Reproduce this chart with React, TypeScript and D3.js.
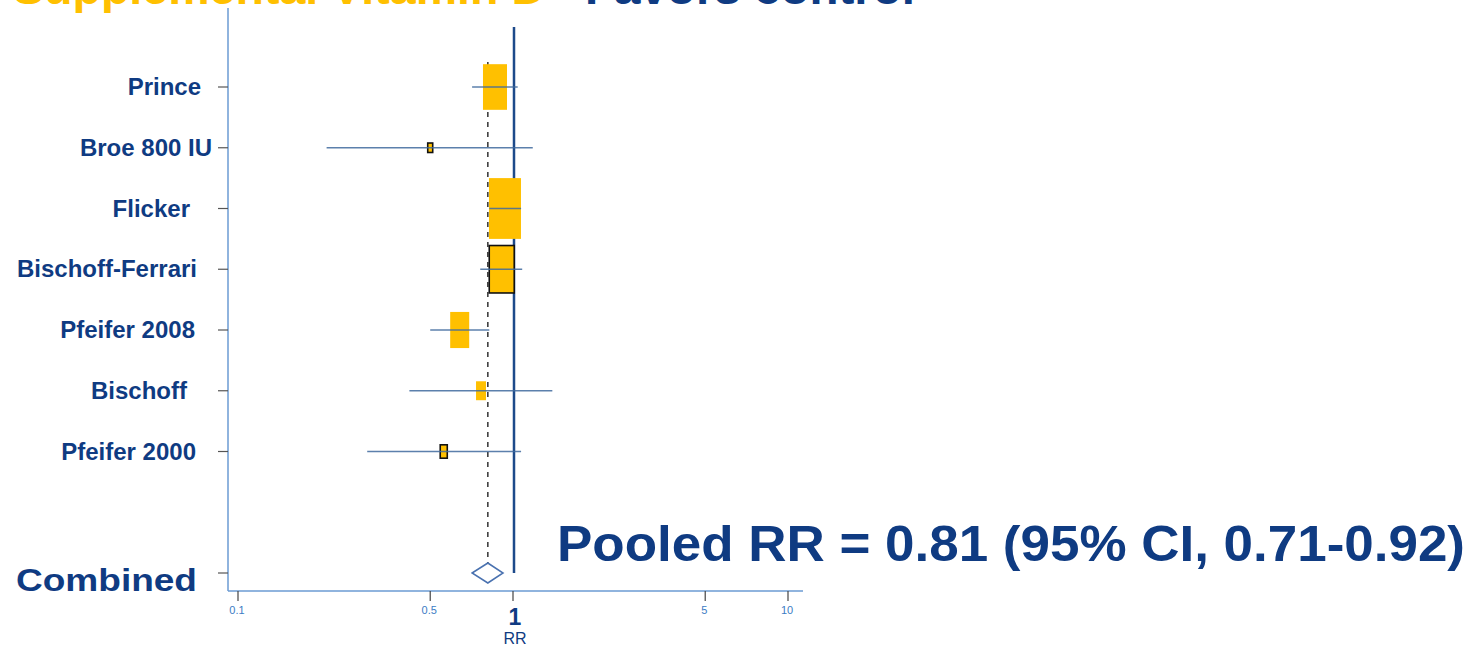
import React from "react";
import * as d3 from "d3";

const studies = ["Prince", "Broe 800 IU", "Flicker", "Bischoff-Ferrari", "Pfeifer 2008", "Bischoff", "Pfeifer 2000"];
const rr = [0.86, 0.5, 0.935, 0.91, 0.64, 0.765, 0.56];
const lower = [0.71, 0.21, 0.82, 0.76, 0.5, 0.42, 0.295];
const upper = [1.04, 1.18, 1.07, 1.08, 0.82, 1.39, 1.07];
const weights = [20.9, 0.9, 37.1, 22.6, 13.1, 3.6, 1.8];
const outlined = [false, true, false, true, false, false, true];
const pooledRR = 0.81;
const pooledLower = 0.71;
const pooledUpper = 0.92;
const xTicks = [0.1, 0.5, 1, 5, 10];
const xTickLabels = ["0.1", "0.5", "1", "5", "10"];
const combinedLabel = "Combined";
const pooledText = "Pooled RR = 0.81 (95% CI, 0.71-0.92)";
const titleA = "Supplemental Vitamin D";
const titleB = "Favors control";

// layout (not data)
const labelEnd = [201, 212, 190, 197, 195, 187, 196];

const W = 1475;
const H = 648;
const FONT = "'Liberation Sans', Arial, Helvetica, sans-serif";
const DARK = "#0f3b82";
const YELLOW = "#FFC000";
const AXIS = "#6b9bd3";

export default function App() {
  const x = d3.scaleLog().domain([0.1, 10]).range([238, 788]);
  const y = d3.scaleLinear().domain([0, 8]).range([87, 573]);
  const side = d3.scaleSqrt().domain([0, d3.max(weights) as number]).range([0, 32]);
  const aspect = 1.9;
  const axisY = 591;
  const axisX = 228;
  const combinedRow = 8;
  const rowsAll = [...studies.map((_, i) => i), combinedRow];
  const yc = y(combinedRow);

  return (
    <svg width={W} height={H} style={{ position: "absolute", left: 0, top: 0, background: "#fff" }}>
      {/* title (cropped at top, as in the reference) */}
      <text x={13} y={4} fontFamily={FONT} fontWeight="bold" fontSize={44} fill={YELLOW} textLength={532} lengthAdjust="spacingAndGlyphs">
        {titleA}
      </text>
      <text x={585} y={4} fontFamily={FONT} fontWeight="bold" fontSize={44} fill={DARK} textLength={330} lengthAdjust="spacingAndGlyphs">
        {titleB}
      </text>

      {/* axes */}
      <line x1={axisX} x2={axisX} y1={8} y2={axisY} stroke={AXIS} strokeWidth={1.5} />
      <line x1={axisX} x2={803} y1={axisY} y2={axisY} stroke={AXIS} strokeWidth={1.5} />
      {rowsAll.map((r) => (
        <line key={"lt" + r} x1={218} x2={axisX} y1={y(r)} y2={y(r)} stroke="#555" strokeWidth={1.2} />
      ))}
      {xTicks.map((t, i) => (
        <g key={"xt" + i}>
          <line x1={x(t)} x2={x(t)} y1={axisY} y2={axisY + 10} stroke="#444" strokeWidth={1.2} />
          {t === 1 ? (
            <text x={x(t) + 2} y={625} textAnchor="middle" fontFamily={FONT} fontWeight="bold" fontSize={23} fill={DARK}>
              {xTickLabels[i]}
            </text>
          ) : (
            <text x={x(t) - 1} y={614} textAnchor="middle" fontFamily={FONT} fontSize={11} fill="#3c7cc4">
              {xTickLabels[i]}
            </text>
          )}
        </g>
      ))}
      <text x={x(1) + 2} y={644} textAnchor="middle" fontFamily={FONT} fontSize={16} fill={DARK}>
        RR
      </text>

      {/* reference lines */}
      <line x1={x(1) + 1} x2={x(1) + 1} y1={27} y2={yc} stroke="#1d4a8a" strokeWidth={2.5} />
      <line x1={x(pooledRR)} x2={x(pooledRR)} y1={62} y2={yc - 9} stroke="#333" strokeWidth={1.5} strokeDasharray="5,5" />

      {/* studies */}
      {studies.map((s, i) => {
        const w = side(weights[i]);
        const h = w * aspect;
        const cx = x(rr[i]);
        const cy = y(i);
        return (
          <g key={s}>
            <rect
              x={cx - w / 2}
              y={cy - h / 2}
              width={w}
              height={h}
              fill={YELLOW}
              stroke={outlined[i] ? "#111" : "none"}
              strokeWidth={outlined[i] ? 1.6 : 0}
            />
            <line x1={x(lower[i])} x2={x(upper[i])} y1={cy} y2={cy} stroke="#3f6a9e" strokeOpacity={0.85} strokeWidth={1.6} />
            <text x={labelEnd[i]} y={cy + 8} textAnchor="end" fontFamily={FONT} fontWeight="bold" fontSize={24} fill={DARK}>
              {s}
            </text>
          </g>
        );
      })}

      {/* combined diamond */}
      <path
        d={`M${x(pooledLower)},${yc} L${x(pooledRR)},${yc - 10} L${x(pooledUpper)},${yc} L${x(pooledRR)},${yc + 10} Z`}
        fill="#fff"
        stroke="#4a72b0"
        strokeWidth={1.5}
      />
      <text x={16} y={591} fontFamily={FONT} fontWeight="bold" fontSize={31} fill={DARK} textLength={181} lengthAdjust="spacingAndGlyphs">
        {combinedLabel}
      </text>

      <text x={557} y={561} fontFamily={FONT} fontWeight="bold" fontSize={50} fill={DARK} textLength={908} lengthAdjust="spacingAndGlyphs">
        {pooledText}
      </text>
    </svg>
  );
}
